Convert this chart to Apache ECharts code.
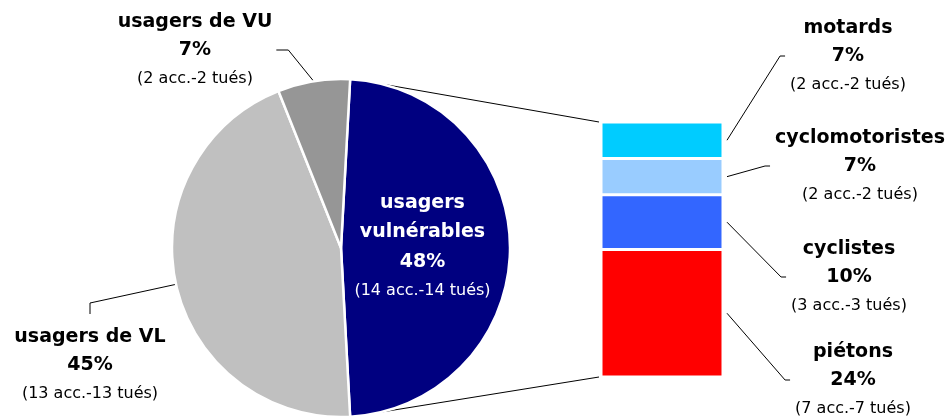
<!DOCTYPE html>
<html>
<head>
<meta charset="utf-8">
<script src="https://cdn.jsdelivr.net/npm/echarts@6/dist/echarts.min.js"></script>
<style>
    html, body { margin: 0; padding: 0; background: #fff; }
    #main { width: 951px; height: 418px; }
</style>
</head>
<body>
<div id="main"></div>
<script>
    // camembert principal : tués par type d'usager
    var pieNames = ['usagers\nvulnérables', 'usagers de VL', 'usagers de VU'];
    var pieAcc = [14, 13, 2];
    var pieTues = [14, 13, 2];
    var piePct = [48, 45, 7];
    var pieColors = ['#000080', '#c0c0c0', '#969696'];

    // détail des usagers vulnérables (de bas en haut de la barre)
    var barNames = ['piétons', 'cyclistes', 'cyclomotoristes', 'motards'];
    var barAcc = [7, 3, 2, 2];
    var barTues = [7, 3, 2, 2];
    var barPct = [24, 10, 7, 7];
    var barColors = ['#ff0000', '#3366ff', '#99ccff', '#00ccff'];

    // mise en page
    var FONT = 'DejaVu Sans';
    var PIE_C = [341, 248], PIE_R = 169;
    var GRID = {left: 601, top: 122, width: 122, height: 255};
    var pieLabelPos = [null, [90, 365], [195, 50]];
    var barLabelPos = [[853, 380], [849, 277], [860, 166], [848, 56]];

    var pieTotal = pieTues.reduce(function (a, b) { return a + b; }, 0);
    var barTotal = barTues.reduce(function (a, b) { return a + b; }, 0);
    var firstSpan = pieTues[0] / pieTotal * 360;

    // angle du milieu d'une part, en degrés, sens horaire depuis midi
    function midAngle(i) {
        var a = 90 - firstSpan / 2;
        for (var k = 0; k < i; k++) a += pieTues[k] / pieTotal * 360;
        return a + pieTues[i] / pieTotal * 180;
    }
    function onCircle(deg) {
        var r = deg * Math.PI / 180;
        return [PIE_C[0] + PIE_R * Math.sin(r), PIE_C[1] - PIE_R * Math.cos(r)];
    }
    function txt(name, pct, acc, tues) {
        return '{n|' + name.split('\n').join('}\n{n|') + '}\n{p|' + pct + '%}\n{s|(' + acc + ' acc.-' + tues + ' tués)}';
    }

    var rich = {
        n: {fontFamily: FONT, fontSize: 19, fontWeight: 'bold', color: '#000', lineHeight: 28},
        p: {fontFamily: FONT, fontSize: 19, fontWeight: 'bold', color: '#000', lineHeight: 29},
        s: {fontFamily: FONT, fontSize: 16, color: '#000', lineHeight: 27}
    };
    var richIn = {
        n: {fontFamily: FONT, fontSize: 19, fontWeight: 'bold', color: '#fff', lineHeight: 29},
        p: {fontFamily: FONT, fontSize: 19, fontWeight: 'bold', color: '#fff', lineHeight: 30},
        s: {fontFamily: FONT, fontSize: 16, color: '#fff', lineHeight: 28}
    };

    var myChart = echarts.init(document.getElementById('main'));

    var pieData = pieNames.map(function (name, i) {
        var item = {name: name, value: pieTues[i], itemStyle: {color: pieColors[i]}};
        if (i === 0) {
            item.label = {position: 'inside', rich: richIn, offset: [-6, -1]};
            item.labelLine = {show: false};
        }
        return item;
    });

    // traits des étiquettes de la barre, remplis pendant le labelLayout
    var barLines = [];

    var barSeries = barNames.map(function (name, i) {
        return {
            name: name,
            type: 'bar',
            stack: 'vuln',
            barWidth: '100%',
            data: [barTues[i]],
            itemStyle: {color: barColors[i], borderColor: '#fff', borderWidth: 1.5},
            label: {
                show: true,
                position: 'right',
                formatter: function () { return txt(name, barPct[i], barAcc[i], barTues[i]); },
                rich: rich
            },
            labelLayout: function (p) {
                var c = barLabelPos[i];
                var left = c[0] - p.labelRect.width / 2;
                barLines[i] = [
                    [p.rect.x + p.rect.width + 4, p.rect.y + p.rect.height / 2],
                    [left - 10, c[1]],
                    [left - 5, c[1]]
                ];
                return {x: c[0], y: c[1], align: 'center', verticalAlign: 'middle'};
            }
        };
    });

    myChart.setOption({
        animation: false,
        grid: {left: GRID.left, top: GRID.top, width: GRID.width, height: GRID.height, containLabel: false},
        xAxis: {type: 'category', data: ['usagers vulnérables'], show: false},
        yAxis: {type: 'value', min: 0, max: barTotal, show: false},
        series: [{
            name: 'tués',
            type: 'pie',
            center: PIE_C,
            radius: PIE_R,
            startAngle: firstSpan / 2,
            clockwise: true,
            avoidLabelOverlap: false,
            itemStyle: {borderColor: '#fff', borderWidth: 2.5},
            label: {
                show: true,
                position: 'outside',
                formatter: function (p) {
                    var i = p.dataIndex;
                    return txt(pieNames[i], piePct[i], pieAcc[i], pieTues[i]);
                },
                rich: rich
            },
            labelLine: {show: true, lineStyle: {color: '#000', width: 1}},
            labelLayout: function (p) {
                var i = p.dataIndex;
                if (!pieLabelPos[i]) return {};
                var cx = pieLabelPos[i][0], cy = pieLabelPos[i][1];
                var w = p.labelRect.width, h = p.labelRect.height;
                var start = onCircle(midAngle(i));
                var pts;
                if (i === 2) {
                    var right = cx + w / 2;
                    pts = [start, [right + 16, cy], [right + 4, cy]];
                } else {
                    var top = cy - h / 2;
                    pts = [start, [cx, top - 25], [cx, top - 14]];
                }
                return {x: cx, y: cy, align: 'center', verticalAlign: 'middle', labelLinePoints: pts};
            },
            data: pieData
        }].concat(barSeries)
    });

    // traits de liaison entre le camembert et la barre + traits des étiquettes
    var barTop = myChart.convertToPixel({gridIndex: 0}, [0, barTotal]);
    var barBottom = myChart.convertToPixel({gridIndex: 0}, [0, 0]);
    var p1 = onCircle(14), p2 = onCircle(166);
    var lineStyle = {stroke: '#000', lineWidth: 1, fill: null};
    var graphics = [
        {type: 'line', z: 1, shape: {x1: p1[0], y1: p1[1], x2: GRID.left - 2, y2: barTop[1]}, style: lineStyle},
        {type: 'line', z: 1, shape: {x1: p2[0], y1: p2[1], x2: GRID.left - 2, y2: barBottom[1]}, style: lineStyle}
    ];
    barLines.forEach(function (pts) {
        graphics.push({type: 'polyline', z: 1, shape: {points: pts}, style: lineStyle});
    });
    myChart.setOption({graphic: graphics});
</script>
</body>
</html>
